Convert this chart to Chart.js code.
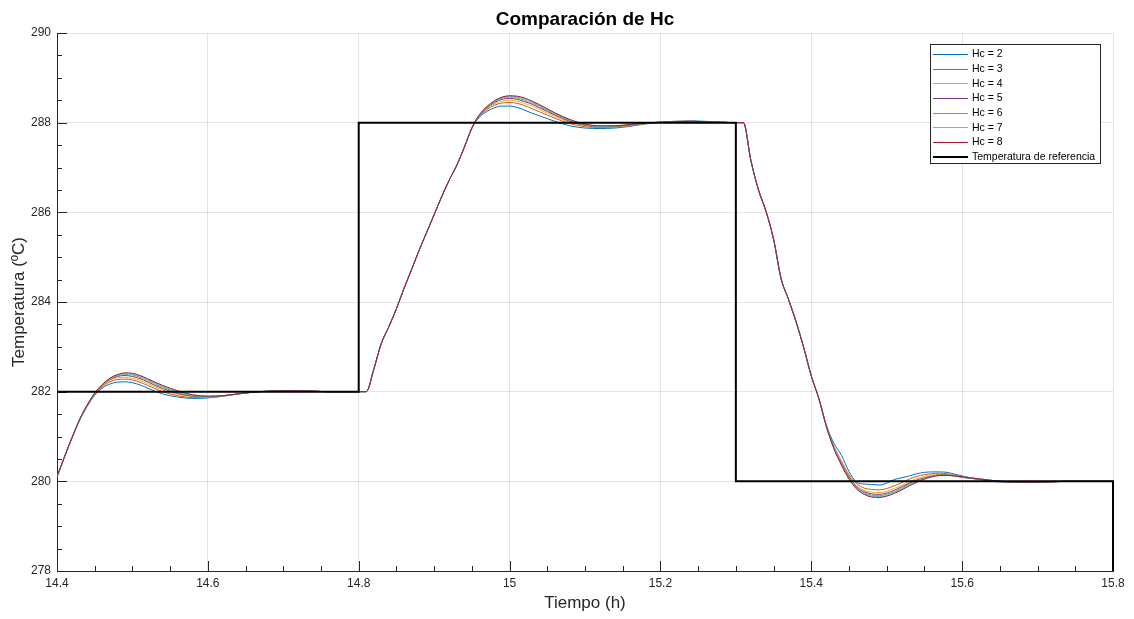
<!DOCTYPE html>
<html>
<head>
<meta charset="utf-8">
<script src="https://cdn.jsdelivr.net/npm/chart.js@4/dist/chart.umd.min.js"></script>
<style>
html,body{margin:0;padding:0;background:#fff;}
#wrap{position:relative;width:1134px;height:619px;}
canvas{display:block;}
</style>
</head>
<body>
<div id="wrap"><canvas id="c" width="1134" height="619"></canvas></div>
<script>
// ---------- data ----------
const times = [
14.40,14.41,14.42,14.43,14.44,14.45,14.46,14.47,14.48,14.49,14.50,14.51,14.52,14.53,14.54,14.56,14.58,14.60,14.62,14.64,14.66,14.68,14.70,14.72,14.74,14.76,14.78,14.80,
14.81,14.82,14.83,14.84,14.85,14.86,14.87,14.88,14.89,14.90,14.91,14.92,14.93,14.94,14.95,
14.96,14.97,14.98,14.99,15.00,15.01,15.02,15.03,15.04,15.06,15.08,15.10,15.12,15.14,15.16,15.18,15.20,15.22,15.24,15.26,15.28,15.30,15.31,
15.32,15.33,15.34,15.35,15.36,15.37,15.38,15.39,15.40,15.41,
15.42,15.43,15.44,15.45,15.46,15.47,15.48,15.49,15.50,15.51,15.52,15.53,15.54,15.55,15.56,15.57,15.58,15.59,15.60,
15.62,15.64,15.66,15.68,15.70,15.72,15.74,15.76,15.78,15.80];

const hc2 = [
280.10,280.55,280.97,281.36,281.67,281.92,282.08,282.17,282.21,282.22,282.20,282.15,282.08,282.01,281.95,281.88,281.85,281.86,281.90,281.95,281.99,282.01,282.02,282.02,282.01,282.00,282.00,282.00,
282.00,282.50,283.08,283.45,283.85,284.30,284.72,285.15,285.55,285.95,286.35,286.72,287.05,287.45,287.88,
288.12,288.25,288.33,288.37,288.37,288.34,288.28,288.21,288.15,288.03,287.93,287.88,287.87,287.88,287.92,287.97,288.01,288.03,288.04,288.03,288.01,288.00,288.00,
287.15,286.50,286.02,285.40,284.52,284.05,283.55,282.98,282.35,281.85,
281.25,280.85,280.58,280.22,279.98,279.94,279.93,279.92,279.96,280.04,280.08,280.12,280.17,280.20,280.21,280.21,280.20,280.16,280.12,
280.05,280.00,279.98,279.98,279.99,280.00,280.00,280.00,280.00,280.00];

const hc3 = [
280.10,280.55,280.97,281.37,281.68,281.94,282.11,282.22,282.27,282.28,282.26,282.21,282.14,282.07,282.00,281.91,281.87,281.87,281.90,281.95,281.99,282.01,282.02,282.02,282.01,282.00,282.00,282.00,
282.00,282.50,283.08,283.45,283.85,284.30,284.72,285.15,285.55,285.95,286.35,286.72,287.05,287.45,287.88,
288.14,288.29,288.39,288.44,288.45,288.43,288.38,288.31,288.24,288.10,287.98,287.91,287.89,287.90,287.93,287.98,288.01,288.03,288.03,288.02,288.01,288.00,288.00,
287.15,286.50,286.02,285.40,284.52,284.05,283.55,282.98,282.35,281.85,
281.24,280.78,280.45,280.15,279.95,279.85,279.82,279.81,279.84,279.90,279.97,280.05,280.11,280.15,280.17,280.18,280.17,280.14,280.10,
280.05,280.01,279.99,279.98,279.98,279.99,280.00,280.00,280.00,280.00];

const hc4 = [
280.10,280.55,280.98,281.37,281.69,281.95,282.13,282.25,282.31,282.32,282.30,282.25,282.18,282.11,282.04,281.94,281.89,281.88,281.91,281.95,281.99,282.01,282.02,282.02,282.01,282.00,282.00,282.00,
282.00,282.50,283.08,283.45,283.85,284.30,284.72,285.15,285.55,285.95,286.35,286.72,287.05,287.45,287.88,
288.15,288.31,288.42,288.48,288.50,288.48,288.43,288.37,288.29,288.14,288.01,287.93,287.90,287.91,287.94,287.98,288.01,288.02,288.03,288.02,288.01,288.00,288.00,
287.15,286.50,286.02,285.40,284.52,284.05,283.55,282.98,282.35,281.85,
281.23,280.76,280.42,280.12,279.91,279.80,279.76,279.75,279.78,279.84,279.91,279.99,280.06,280.11,280.14,280.15,280.15,280.13,280.09,
280.05,280.01,279.99,279.98,279.98,279.99,280.00,280.00,280.00,280.00];

const hc5 = [
280.10,280.55,280.98,281.38,281.70,281.96,282.14,282.27,282.34,282.36,282.34,282.29,282.22,282.14,282.07,281.96,281.90,281.89,281.91,281.95,281.99,282.01,282.02,282.02,282.01,282.00,282.00,282.00,
282.00,282.50,283.08,283.45,283.85,284.30,284.72,285.15,285.55,285.95,286.35,286.72,287.05,287.45,287.88,
288.16,288.33,288.45,288.52,288.54,288.52,288.47,288.41,288.33,288.17,288.03,287.94,287.91,287.92,287.95,287.99,288.01,288.02,288.03,288.02,288.01,288.00,288.00,
287.15,286.50,286.02,285.40,284.52,284.05,283.55,282.98,282.35,281.85,
281.23,280.75,280.40,280.10,279.88,279.77,279.72,279.71,279.74,279.80,279.88,279.96,280.03,280.08,280.12,280.14,280.14,280.12,280.09,
280.05,280.01,279.99,279.98,279.98,279.99,280.00,280.00,280.00,280.00];

const hc6 = [
280.10,280.55,280.98,281.38,281.70,281.96,282.15,282.28,282.36,282.38,282.37,282.32,282.25,282.17,282.10,281.98,281.91,281.89,281.91,281.95,281.99,282.01,282.02,282.02,282.01,282.00,282.00,282.00,
282.00,282.50,283.08,283.45,283.85,284.30,284.72,285.15,285.55,285.95,286.35,286.72,287.05,287.45,287.88,
288.17,288.34,288.47,288.55,288.57,288.55,288.50,288.44,288.36,288.19,288.05,287.95,287.92,287.92,287.95,287.99,288.01,288.02,288.03,288.02,288.01,288.00,288.00,
287.15,286.50,286.02,285.40,284.52,284.05,283.55,282.98,282.35,281.85,
281.22,280.74,280.39,280.08,279.86,279.75,279.69,279.68,279.71,279.77,279.85,279.94,280.01,280.07,280.11,280.14,280.14,280.12,280.10,
280.06,280.02,279.99,279.98,279.98,279.99,280.00,280.00,280.00,280.00];

const hc7 = [
280.10,280.55,280.98,281.38,281.70,281.97,282.15,282.29,282.37,282.40,282.39,282.34,282.27,282.19,282.12,282.00,281.92,281.90,281.91,281.95,281.99,282.01,282.02,282.02,282.01,282.00,282.00,282.00,
282.00,282.50,283.08,283.45,283.85,284.30,284.72,285.15,285.55,285.95,286.35,286.72,287.05,287.45,287.88,
288.17,288.35,288.48,288.56,288.59,288.57,288.53,288.46,288.38,288.21,288.06,287.96,287.92,287.93,287.96,287.99,288.01,288.02,288.03,288.02,288.01,288.00,288.00,
287.15,286.50,286.02,285.40,284.52,284.05,283.55,282.98,282.35,281.85,
281.22,280.74,280.38,280.07,279.85,279.73,279.67,279.66,279.69,279.75,279.83,279.92,280.00,280.06,280.11,280.13,280.13,280.12,280.10,
280.06,280.02,279.99,279.98,279.98,279.99,280.00,280.00,280.00,280.00];

const hc8 = [
280.10,280.55,280.98,281.38,281.70,281.97,282.16,282.30,282.38,282.42,282.41,282.36,282.29,282.21,282.14,282.02,281.93,281.90,281.91,281.95,281.99,282.01,282.02,282.02,282.01,282.00,282.00,282.00,
282.00,282.50,283.08,283.45,283.85,284.30,284.72,285.15,285.55,285.95,286.35,286.72,287.05,287.45,287.88,
288.18,288.36,288.49,288.57,288.60,288.59,288.55,288.48,288.40,288.22,288.07,287.97,287.93,287.93,287.96,287.99,288.01,288.02,288.03,288.02,288.01,288.00,288.00,
287.15,286.50,286.02,285.40,284.52,284.05,283.55,282.98,282.35,281.85,
281.22,280.73,280.36,280.05,279.83,279.71,279.65,279.64,279.67,279.73,279.81,279.90,279.98,280.05,280.10,280.13,280.13,280.12,280.10,
280.06,280.02,279.99,279.98,279.98,279.99,280.00,280.00,280.00,280.00];

const refTimes  = [14.4, 14.8, 14.8, 15.3, 15.3, 15.8, 15.8];
const refValues = [282, 282, 288, 288, 280, 280, 278];

const seriesLabels = ['Hc = 2','Hc = 3','Hc = 4','Hc = 5','Hc = 6','Hc = 7','Hc = 8'];
const seriesValues = [hc2, hc3, hc4, hc5, hc6, hc7, hc8];
const seriesColors = ['#0072BD','#D95319','#EDB120','#7E2F8E','#77AC30','#4DBEEE','#A2142F'];
const refLabel = 'Temperatura de referencia';

const xTickValues = [14.4, 14.6, 14.8, 15.0, 15.2, 15.4, 15.6, 15.8];
const xTickLabels = ['14.4','14.6','14.8','15','15.2','15.4','15.6','15.8'];
const yTickValues = [278, 280, 282, 284, 286, 288, 290];
const yTickLabels = ['278','280','282','284','286','288','290'];

// ---------- chart ----------
const FONT = "'Liberation Sans', Arial, Helvetica, sans-serif";
const AXIS = '#262626';
Chart.defaults.font.family = FONT;

const datasets = seriesLabels.map((lab, i) => ({
  label: lab,
  data: times.map((t, j) => ({x: t, y: seriesValues[i][j]})),
  borderColor: seriesColors[i],
  backgroundColor: seriesColors[i],
  borderWidth: 1,
  pointRadius: 0,
  fill: false,
  cubicInterpolationMode: 'monotone',
  order: 8 - i
}));
datasets.push({
  label: refLabel,
  data: refTimes.map((t, j) => ({x: t, y: refValues[j]})),
  borderColor: '#000000',
  backgroundColor: '#000000',
  borderWidth: 2,
  pointRadius: 0,
  fill: false,
  tension: 0,
  clip: 4,
  order: 0
});

const innerTicks = {
  id: 'innerTicks',
  beforeDatasetsDraw(chart) {
    const {ctx, chartArea: a, scales: {x, y}} = chart;
    ctx.save();
    ctx.strokeStyle = AXIS;
    ctx.lineWidth = 1;
    ctx.beginPath();
    const xMinorStep = 0.05, yMinorStep = 0.5;
    for (let k = 0; k <= 28; k++) {
      const v = 14.4 + k * xMinorStep;
      const px = Math.round(x.getPixelForValue(v)) + 0.5;
      const len = (k % 4 === 0) ? 10 : 5;
      ctx.moveTo(px, a.bottom);
      ctx.lineTo(px, a.bottom - len);
    }
    for (let k = 0; k <= 24; k++) {
      const v = 278 + k * yMinorStep;
      const py = Math.round(y.getPixelForValue(v)) + 0.5;
      const len = (k % 4 === 0) ? 10 : 5;
      ctx.moveTo(a.left, py);
      ctx.lineTo(a.left + len, py);
    }
    ctx.stroke();
    ctx.restore();
  }
};

const boxLegend = {
  id: 'boxLegend',
  afterDraw(chart) {
    const {ctx} = chart;
    const bx = 930, by = 44, bw = 171, bh = 120;
    ctx.save();
    ctx.fillStyle = '#ffffff';
    ctx.fillRect(bx, by, bw, bh);
    ctx.strokeStyle = AXIS;
    ctx.lineWidth = 1;
    ctx.strokeRect(bx + 0.5, by + 0.5, bw - 1, bh - 1);
    ctx.font = '10.5px ' + FONT;
    ctx.textBaseline = 'middle';
    ctx.textAlign = 'left';
    chart.data.datasets.forEach((ds, i) => {
      const cy = by + 10 + i * 14.65;
      ctx.strokeStyle = ds.borderColor;
      ctx.lineWidth = ds.borderWidth;
      ctx.beginPath();
      ctx.moveTo(bx + 3, Math.round(cy) + (ds.borderWidth === 1 ? 0.5 : 0));
      ctx.lineTo(bx + 38, Math.round(cy) + (ds.borderWidth === 1 ? 0.5 : 0));
      ctx.stroke();
      ctx.fillStyle = '#000000';
      ctx.fillText(ds.label, bx + 42, cy + 0.5);
    });
    ctx.restore();
  }
};

new Chart(document.getElementById('c'), {
  type: 'line',
  data: {datasets},
  plugins: [innerTicks, boxLegend],
  options: {
    responsive: false,
    animation: false,
    devicePixelRatio: 1,
    layout: {padding: {left: 0, right: 21, top: 0, bottom: 0}},
    plugins: {
      legend: {display: false},
      tooltip: {enabled: false},
      title: {
        display: true,
        text: 'Comparación de Hc',
        fullSize: false,
        color: '#000000',
        font: {size: 19, weight: 'bold', family: FONT},
        padding: {top: 8, bottom: 2.2}
      }
    },
    scales: {
      x: {
        type: 'linear',
        min: 14.4, max: 15.8,
        afterBuildTicks: s => { s.ticks = xTickValues.map(v => ({value: v})); },
        afterFit: s => { s.height = 48; s.paddingLeft = 0; s.paddingRight = 0; },
        ticks: {
          autoSkip: false, maxRotation: 0, padding: 5,
          color: AXIS, font: {size: 12},
          callback: (v, i) => xTickLabels[i]
        },
        grid: {color: 'rgba(0,0,0,0.1)', drawTicks: false},
        border: {display: true, color: AXIS, width: 1},
        title: {display: true, text: 'Tiempo (h)', color: AXIS, font: {size: 17}, padding: {top: 0, bottom: 5}}
      },
      y: {
        type: 'linear',
        min: 278, max: 290,
        afterBuildTicks: s => { s.ticks = yTickValues.map(v => ({value: v})); },
        afterFit: s => { s.width = 57; s.paddingTop = 0; s.paddingBottom = 0; },
        ticks: {
          autoSkip: false, padding: 6,
          color: AXIS, font: {size: 12},
          callback: (v, i) => yTickLabels[i]
        },
        grid: {color: 'rgba(0,0,0,0.1)', drawTicks: false},
        border: {display: true, color: AXIS, width: 1},
        title: {display: true, text: 'Temperatura (ºC)', color: AXIS, font: {size: 17}, padding: {top: 9, bottom: 0}}
      }
    }
  }
});
</script>
</body>
</html>
